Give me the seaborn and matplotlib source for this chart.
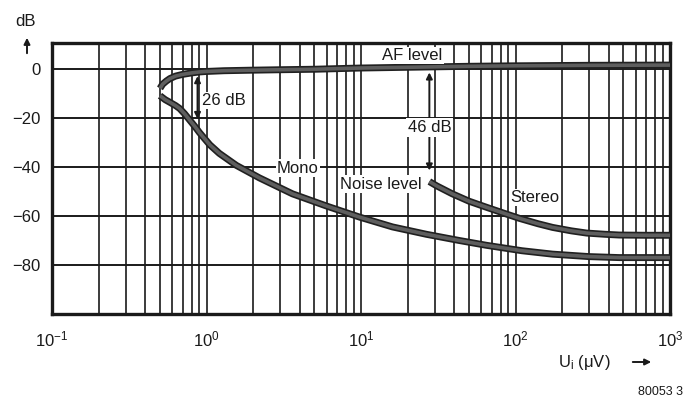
import numpy as np
import pandas as pd
import seaborn as sns
import matplotlib.pyplot as plt
import matplotlib.patheffects as pe
from matplotlib.patches import FancyArrowPatch
from matplotlib.ticker import FixedLocator, NullFormatter

# ──────────────────────────────
# Data
# ──────────────────────────────
af_x = [0.5, 0.52, 0.55, 0.58, 0.63, 0.7, 0.8, 0.9, 1.0, 1.3, 1.9, 3, 5, 10, 20, 50, 100, 300, 1000]
af_y = [-8.0, -6.3, -5.0, -4.0, -3.0, -2.3, -1.7, -1.3, -1.1, -0.8, -0.6, -0.4, -0.2, 0.3, 0.6, 1.0, 1.2, 1.4, 1.5]

mono_x = [0.5, 0.54, 0.58, 0.63, 0.67, 0.72, 0.78, 0.84, 0.9, 1.05, 1.21, 1.56, 2.2, 3.6,
          6.0, 9.8, 16, 26.5, 43, 65, 110, 174, 300, 470, 1000]
mono_y = [-11, -12.6, -13.7, -15, -16.2, -18.3, -21, -23.5, -26, -31, -34.5, -39.4, -44.5, -51,
          -56, -60.5, -64.5, -67.5, -70, -72, -74.2, -75.6, -76.6, -77, -77]

stereo_x = [27.7, 31, 39, 50, 65, 85, 106, 140, 174, 230, 289, 380, 470, 700, 1000]
stereo_y = [-46, -47.8, -51, -54, -56.5, -59, -61, -63.2, -64.7, -66.1, -67, -67.5, -67.8, -67.9, -67.9]

yticks = [0, -20, -40, -60, -80]
xdecades = [0.1, 1, 10, 100, 1000]
xlabels = ["$10^{-1}$", "$10^{0}$", "$10^{1}$", "$10^{2}$", "$10^{3}$"]

# ──────────────────────────────
# Style
# ──────────────────────────────
sns.set_style("white")
plt.rcParams["font.family"] = ["Liberation Sans", "DejaVu Sans"]
plt.rcParams["mathtext.fontset"] = "custom"
plt.rcParams["mathtext.rm"] = "Liberation Sans"
plt.rcParams["mathtext.it"] = "Liberation Sans:italic"
plt.rcParams["mathtext.default"] = "regular"
plt.rcParams["axes.unicode_minus"] = True

INK = "#1a1a1a"

fig = plt.figure(figsize=(6.86, 3.99), dpi=100)
ax = fig.add_axes([52 / 686, 1 - 314 / 399, (670 - 52) / 686, (314 - 43) / 399])

ax.set_xscale("log")
ax.set_xlim(0.1, 1000)
ax.set_ylim(-100, 10.5)

# grid: every 1..9 per decade, every 20 dB
minor = [m * d for d in [0.1, 1, 10, 100] for m in range(2, 10)]
ax.xaxis.set_minor_locator(FixedLocator(minor))
ax.xaxis.set_minor_formatter(NullFormatter())
ax.set_xticks(xdecades)
ax.set_xticklabels(xlabels)
ax.set_yticks(yticks)
for v in xdecades + minor:
    ax.axvline(v, color=INK, lw=1.2, zorder=1)
for v in yticks:
    ax.axhline(v, color=INK, lw=1.4, zorder=1)

for s in ax.spines.values():
    s.set_linewidth(2.4)
    s.set_color(INK)

ax.tick_params(axis="both", which="major", length=5, width=1.4, color=INK,
               labelsize=12, labelcolor=INK, direction="out", pad=3)
ax.tick_params(axis="x", which="minor", length=0)
ax.tick_params(axis="x", which="major", pad=6)

# ──────────────────────────────
# Curves
# ──────────────────────────────
curve_fx = [pe.Stroke(linewidth=5.0, foreground="#202020"), pe.Normal()]
for xs, ys in [(af_x, af_y), (mono_x, mono_y), (stereo_x, stereo_y)]:
    df = pd.DataFrame({"x": xs, "y": ys})
    sns.lineplot(data=df, x="x", y="y", ax=ax, color="#5e5e5e", lw=2.6,
                 solid_capstyle="butt", solid_joinstyle="round", zorder=4)
for ln in ax.get_lines()[-3:]:
    ln.set_path_effects(curve_fx)
ax.set_xlabel("")
ax.set_ylabel("")

# ──────────────────────────────
# Annotations
# ──────────────────────────────
arrow = dict(arrowstyle="<|-|>", color=INK, lw=1.4, mutation_scale=9,
             shrinkA=0, shrinkB=0)
ax.annotate("", xy=(0.875, -3.0), xytext=(0.875, -20.5), arrowprops=arrow, zorder=5)
ax.text(0.93, -13, "26 dB", fontsize=12, color=INK, ha="left", va="center",
        bbox=dict(facecolor="white", edgecolor="none", pad=1), zorder=6)

ax.annotate("", xy=(27.7, -1.5), xytext=(27.7, -41.5), arrowprops=arrow, zorder=5)
ax.text(27.7, -24, "46 dB", fontsize=12, color=INK, ha="center", va="center",
        bbox=dict(facecolor="white", edgecolor="none", pad=1.5), zorder=6)

box = dict(facecolor="white", edgecolor="none", pad=1)
ax.text(21.5, 5.4, "AF level", fontsize=12, color=INK, ha="center", va="center",
        bbox=box, zorder=6)
ax.text(3.9, -40.5, "Mono", fontsize=12, color=INK, ha="center", va="center",
        bbox=box, zorder=6)
ax.text(13.4, -47, "Noise level", fontsize=12, color=INK, ha="center", va="center",
        bbox=box, zorder=6)
ax.text(134, -52.5, "Stereo", fontsize=12, color=INK, ha="center", va="center",
        bbox=box, zorder=6)

# axis captions outside the frame
fig.text(26 / 686, 1 - 21 / 399, "dB", fontsize=12, color=INK, ha="center", va="center")
fig.patches.append(FancyArrowPatch(
    (27 / 686, 1 - 56 / 399), (27 / 686, 1 - 35 / 399), transform=fig.transFigure,
    arrowstyle="-|>", mutation_scale=9, color=INK, lw=1.4))
fig.text(558 / 686, 1 - 362 / 399, "U$_\\mathrm{i}$ ($\\mu$V)", fontsize=12, color=INK,
         ha="left", va="center")
fig.patches.append(FancyArrowPatch(
    (630 / 686, 1 - 362 / 399), (654 / 686, 1 - 362 / 399), transform=fig.transFigure,
    arrowstyle="-|>", mutation_scale=9, color=INK, lw=1.4))
fig.text(683 / 686, 1 - 392 / 399, "80053 3", fontsize=9, color=INK, ha="right", va="center")

fig.savefig("out.png", dpi=100)
